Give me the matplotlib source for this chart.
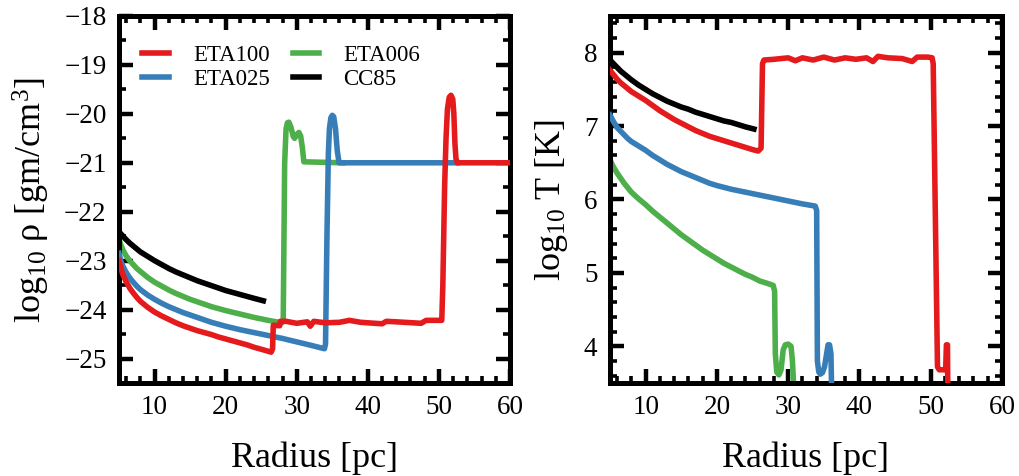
import matplotlib
matplotlib.use("Agg")
import matplotlib.pyplot as plt
from matplotlib.ticker import MultipleLocator

plt.rcParams['font.family'] = ['Liberation Serif', 'DejaVu Serif']
plt.rcParams['mathtext.fontset'] = 'custom'
plt.rcParams['mathtext.rm'] = 'Liberation Serif'
plt.rcParams['mathtext.it'] = 'Liberation Serif:italic'

RED = '#e41a1c'
BLUE = '#377eb8'
GREEN = '#4daf4a'
BLACK = 'black'

# ---- density profiles, log10 rho [g/cm^3] vs radius [pc] ----
r_rho_eta100 = [5.0, 5.25, 5.5, 6, 6.5, 7, 7.5, 8, 9, 10, 11, 12, 13, 14, 15, 16, 17,
                18, 19, 20, 21, 22, 23, 24, 25, 26.4, 26.6, 26.7,
                27.6, 27.7, 28.5, 30, 31.5, 31.9, 32.4, 34, 36, 37.4, 39, 42, 42.6,
                44, 47.5, 48.2, 50.4, 50.55, 50.8, 51.0, 51.2, 51.45, 51.7, 51.95,
                52.1, 52.25, 52.4, 52.6, 55, 60]
rho_eta100 = [-23.0, -23.15, -23.27, -23.43, -23.56, -23.66, -23.75, -23.83, -23.95,
              -24.05, -24.13, -24.2, -24.27, -24.33, -24.38, -24.43, -24.47, -24.51,
              -24.56, -24.6, -24.64, -24.68, -24.72, -24.77, -24.81, -24.87, -24.8,
              -24.32, -24.33, -24.24, -24.24, -24.28, -24.25, -24.34, -24.24, -24.27,
              -24.26, -24.22, -24.26, -24.29, -24.24, -24.25, -24.28, -24.22, -24.22,
              -23.5, -21.5, -20.5, -19.9, -19.66, -19.62, -19.7, -20.0, -20.6, -20.92,
              -21.0, -21.0, -21.0]

r_rho_eta025 = [5.0, 5.25, 5.5, 6, 6.5, 7, 7.5, 8, 9, 10, 11, 12, 13, 14, 15, 16, 17,
                18, 19, 20, 22, 24, 26, 28, 30, 32, 33.9, 34.05, 34.25, 34.45, 34.6,
                34.8, 35.0, 35.2, 35.45, 35.7, 35.95, 52.5]
rho_eta025 = [-22.85, -23.0, -23.1, -23.24, -23.35, -23.44, -23.52, -23.59, -23.7,
              -23.79, -23.87, -23.94, -24.0, -24.06, -24.11, -24.16, -24.21, -24.26,
              -24.3, -24.34, -24.41, -24.47, -24.53, -24.59, -24.66, -24.73, -24.8,
              -24.7, -22.5, -20.8, -20.3, -20.08, -20.03, -20.06, -20.3, -20.75,
              -21.0, -21.0]

r_rho_eta006 = [5.0, 5.25, 5.5, 6, 6.5, 7, 7.5, 8, 9, 10, 11, 12, 13, 14, 15, 16, 17,
                18, 19, 20, 22, 24, 26, 27.9, 28.1, 28.3, 28.5, 28.7, 28.9, 29.2,
                29.5, 29.7, 30.0, 30.3, 30.55, 30.8, 31.0, 36.5]
rho_eta006 = [-22.55, -22.68, -22.77, -22.9, -23.0, -23.08, -23.16, -23.22, -23.34,
              -23.44, -23.52, -23.6, -23.67, -23.73, -23.79, -23.84, -23.89, -23.94,
              -23.98, -24.02, -24.09, -24.16, -24.22, -24.27, -24.2, -21.0, -20.3,
              -20.18, -20.17, -20.28, -20.46, -20.5, -20.42, -20.38, -20.45, -20.7,
              -20.98, -21.0]

r_rho_cc85 = [5.0, 5.5, 6, 6.5, 7, 7.5, 8, 9, 10, 11, 12, 13, 14, 15, 16, 17, 18, 19,
              20, 21, 22, 23, 24, 25.3]
rho_cc85 = [-22.41, -22.49, -22.57, -22.64, -22.70, -22.76, -22.82, -22.91, -23.0,
            -23.08, -23.16, -23.23, -23.29, -23.35, -23.41, -23.46, -23.51, -23.56,
            -23.61, -23.65, -23.69, -23.73, -23.77, -23.82]

# ---- temperature profiles, log10 T [K] vs radius [pc] ----
r_T_eta100 = [5.0, 5.5, 6, 6.5, 7, 7.5, 8, 9, 10, 11, 12, 13, 14, 15, 16, 17, 18, 19,
              20, 21, 22, 23, 24, 25, 25.8, 26.2, 26.4, 26.6,
              28, 30, 31, 32, 33.5, 35, 36.5, 38, 39.5, 41, 41.9, 42.6, 44, 46,
              47.4, 48.1, 49.6, 50.2, 50.35, 50.95, 51.2, 52.1, 52.2, 52.35, 52.4]
T_eta100 = [7.76, 7.70, 7.64, 7.59, 7.55, 7.51, 7.47, 7.41, 7.35, 7.28, 7.21, 7.15,
            7.09, 7.04, 6.99, 6.94, 6.90, 6.86, 6.83, 6.80, 6.77, 6.74, 6.71, 6.68,
            6.66, 6.70, 7.85, 7.90, 7.91, 7.93, 7.89, 7.93, 7.90, 7.94, 7.90, 7.93,
            7.91, 7.93, 7.88, 7.95, 7.93, 7.92, 7.88, 7.94, 7.94, 7.93, 7.85, 3.72,
            3.68, 3.68, 4.02, 4.02, 3.40]

r_T_eta025 = [5.0, 5.5, 6, 6.5, 7, 7.5, 8, 9, 10, 11, 12, 13, 14, 15, 16, 17, 18, 19,
              20, 22, 24, 26, 28, 30, 32, 33.8, 34.0, 34.1, 34.3, 34.5, 34.8, 35.1,
              35.4, 35.6, 35.8, 36.0, 36.1]
T_eta025 = [7.15, 7.06, 6.98, 6.93, 6.88, 6.83, 6.79, 6.73, 6.67, 6.60, 6.54, 6.48,
            6.43, 6.38, 6.34, 6.30, 6.26, 6.22, 6.19, 6.14, 6.10, 6.06, 6.02, 5.98,
            5.94, 5.91, 5.85, 3.8, 3.65, 3.62, 3.64, 3.72, 3.9, 4.02, 4.02, 3.9, 3.40]

r_T_eta006 = [5.0, 5.5, 6, 6.5, 7, 7.5, 8, 9, 10, 11, 12, 13, 14, 15, 16, 17, 18, 19,
              20, 21, 22, 23, 24, 25, 26, 27, 27.9, 28.1, 28.2, 28.4, 28.7, 29.0,
              29.3, 29.6, 30.0, 30.4, 30.6, 30.8]
T_eta006 = [6.54, 6.44, 6.36, 6.29, 6.22, 6.16, 6.10, 6.01, 5.93, 5.84, 5.76, 5.68,
            5.60, 5.52, 5.45, 5.38, 5.31, 5.25, 5.19, 5.13, 5.08, 5.03, 4.98, 4.94,
            4.89, 4.86, 4.83, 4.75, 3.9, 3.65, 3.61, 3.68, 3.95, 4.02, 4.03, 4.0,
            3.8, 3.40]

r_T_cc85 = [5.0, 5.5, 6, 6.5, 7, 7.5, 8, 9, 10, 11, 12, 13, 14, 15, 16, 17, 18, 19,
            20, 21, 22, 23, 24, 25.2]
T_cc85 = [7.90, 7.85, 7.80, 7.75, 7.71, 7.67, 7.63, 7.56, 7.50, 7.44, 7.39, 7.34,
          7.30, 7.26, 7.23, 7.19, 7.16, 7.13, 7.10, 7.07, 7.05, 7.02, 6.99, 6.96]

LW = 4.0

fig = plt.figure(figsize=(10.19, 4.76), dpi=100)
ax1 = fig.add_axes([0.1168, 0.1954, 0.3837, 0.771])
ax2 = fig.add_axes([0.5986, 0.1954, 0.3847, 0.771])

ax1.plot(r_rho_eta006, rho_eta006, color=GREEN, lw=LW, label='ETA006', zorder=2)
ax1.plot(r_rho_eta025, rho_eta025, color=BLUE, lw=LW, label='ETA025', zorder=3)
ax1.plot(r_rho_eta100, rho_eta100, color=RED, lw=LW, label='ETA100', zorder=4)
ax1.plot(r_rho_cc85, rho_cc85, color=BLACK, lw=LW, label='CC85', zorder=5)

ax2.plot(r_T_eta006, T_eta006, color=GREEN, lw=LW, zorder=2)
ax2.plot(r_T_eta025, T_eta025, color=BLUE, lw=LW, zorder=3)
ax2.plot(r_T_eta100, T_eta100, color=RED, lw=LW, zorder=4)
ax2.plot(r_T_cc85, T_cc85, color=BLACK, lw=LW, zorder=5)

ax1.set_xlim(5, 60)
ax1.set_ylim(-25.5, -18)
ax2.set_xlim(5, 60)
ax2.set_ylim(3.5, 8.5)

ax1.yaxis.set_major_locator(MultipleLocator(1))
ax1.yaxis.set_minor_locator(MultipleLocator(0.5))
ax2.yaxis.set_major_locator(MultipleLocator(1))
ax2.yaxis.set_minor_locator(MultipleLocator(0.2))

for ax in (ax1, ax2):
    ax.xaxis.set_major_locator(MultipleLocator(10))
    ax.xaxis.set_minor_locator(MultipleLocator(2))
    ax.tick_params(which='both', direction='in', top=True, right=True,
                   labelsize=19.5)
    ax.tick_params(which='major', length=10, width=3.2, pad=9)
    ax.tick_params(which='minor', length=5, width=2.6)
    for s in ax.spines.values():
        s.set_linewidth(3.6)
    ax.set_xlabel('Radius [pc]', fontsize=26, labelpad=15)

ax1.set_ylabel(r'log$_{10}$ ρ [gm/cm$^3$]', fontsize=26, labelpad=9)
ax2.set_ylabel(r'log$_{10}$ T [K]', fontsize=26, labelpad=10)

handles, labels = ax1.get_legend_handles_labels()
order = [2, 1, 0, 3]
ax1.legend([handles[i] for i in order], [labels[i] for i in order],
           ncol=2, loc='upper left', bbox_to_anchor=(0.06, 0.92),
           frameon=False, fontsize=16.5, handlelength=1.15, handletextpad=1.05,
           columnspacing=1.0, borderpad=0, borderaxespad=0, labelspacing=0.1)

fig.savefig('out.png', dpi=100)
